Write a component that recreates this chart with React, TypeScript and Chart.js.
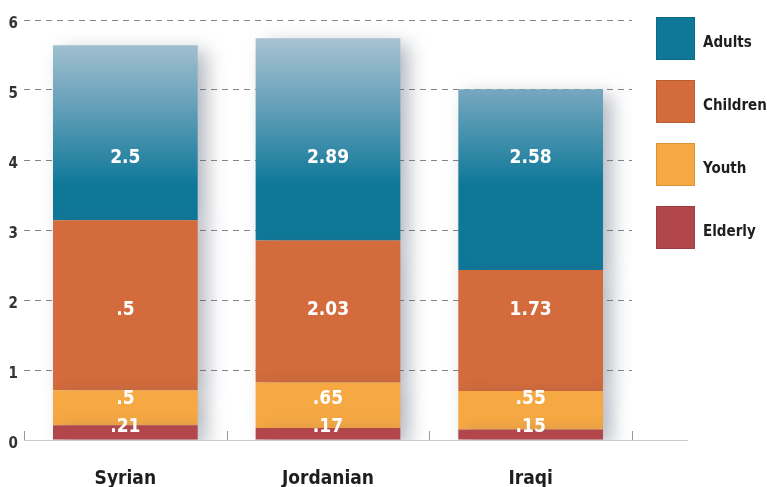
import React, { useEffect, useRef } from 'react';
import { Chart, registerables } from 'chart.js';

Chart.register(...registerables);

const categories = ['Syrian', 'Jordanian', 'Iraqi'];
const seriesNames = ['Adults', 'Children', 'Youth', 'Elderly'];
const adults = [2.5, 2.89, 2.58];
const children = [2.43, 2.03, 1.73];
const youth = [0.5, 0.65, 0.55];
const elderly = [0.21, 0.17, 0.15];
const adultsLabels = ['2.5', '2.89', '2.58'];
const childrenLabels = ['.5', '2.03', '1.73'];
const youthLabels = ['.5', '.65', '.55'];
const elderlyLabels = ['.21', '.17', '.15'];
const yMin = 0;
const yMax = 6;
const yStep = 1;

const FONT = "'Liberation Sans Narrow', 'DejaVu Sans Condensed', 'Roboto', sans-serif";
const COLORS = {
  adults: '#0f7899',
  adultsLight: '#abc5d3',
  children: '#d36b3c',
  youth: '#f6a843',
  elderly: '#b1464b',
};

const legendItems = [
  { name: seriesNames[0], color: COLORS.adults },
  { name: seriesNames[1], color: COLORS.children },
  { name: seriesNames[2], color: COLORS.youth },
  { name: seriesNames[3], color: COLORS.elderly },
];

export default function App() {
  const canvasRef = useRef<HTMLCanvasElement | null>(null);

  useEffect(() => {
    const canvas = canvasRef.current;
    if (!canvas) return;

    const adultsGradient = (ctx: any) => {
      const chart = ctx.chart;
      const area = chart.chartArea;
      const y = chart.scales && chart.scales.y;
      if (!area || !y) return COLORS.adults;
      const top = y.getPixelForValue(5.8);
      const bottom = y.getPixelForValue(3.65);
      const g = chart.ctx.createLinearGradient(0, top, 0, bottom);
      g.addColorStop(0, COLORS.adultsLight);
      g.addColorStop(0.45, '#6aa2bb');
      g.addColorStop(1, COLORS.adults);
      return g;
    };

    const shadowPlugin = {
      id: 'barShadow',
      beforeDatasetsDraw(chart: any) {
        const c = chart.ctx;
        c.save();
        c.shadowColor = 'rgba(70, 80, 100, 0.4)';
        c.shadowBlur = 18;
        c.shadowOffsetX = 9;
        c.shadowOffsetY = 6;
      },
      afterDatasetsDraw(chart: any) {
        chart.ctx.restore();
      },
    };

    const labelSets = [elderlyLabels, youthLabels, childrenLabels, adultsLabels];
    const labelValues = [0.18, 0.58, 1.86, 4.03];

    const decorPlugin = {
      id: 'decor',
      afterDraw(chart: any) {
        const c = chart.ctx;
        const x = chart.scales.x;
        const y = chart.scales.y;
        const area = chart.chartArea;
        const base = y.getPixelForValue(0);
        c.save();
        // baseline
        c.strokeStyle = '#c9c9c9';
        c.lineWidth = 1;
        c.beginPath();
        c.moveTo(area.left, base + 0.5);
        c.lineTo(area.right + 56, base + 0.5);
        c.stroke();
        // boundary tick marks
        const step = x.getPixelForValue(1) - x.getPixelForValue(0);
        c.strokeStyle = '#9a9a9a';
        for (let i = 0; i <= categories.length; i++) {
          const px = Math.round(x.getPixelForValue(i) - step / 2) + 0.5;
          c.beginPath();
          c.moveTo(px, base);
          c.lineTo(px, base - 9);
          c.stroke();
        }
        // value labels
        c.fillStyle = '#ffffff';
        c.font = `bold 19px ${FONT}`;
        c.textAlign = 'center';
        c.textBaseline = 'middle';
        labelSets.forEach((set, di) => {
          const meta = chart.getDatasetMeta(di);
          meta.data.forEach((bar: any, i: number) => {
            c.fillText(set[i], bar.x, y.getPixelForValue(labelValues[di]));
          });
        });
        c.restore();
      },
    };

    const chart = new Chart(canvas, {
      type: 'bar',
      data: {
        labels: categories,
        datasets: [
          { label: seriesNames[3], data: elderly, backgroundColor: COLORS.elderly },
          { label: seriesNames[2], data: youth, backgroundColor: COLORS.youth },
          { label: seriesNames[1], data: children, backgroundColor: COLORS.children },
          { label: seriesNames[0], data: adults, backgroundColor: adultsGradient as any },
        ],
      },
      options: {
        animation: false,
        responsive: true,
        maintainAspectRatio: false,
        layout: { padding: { top: 20, right: 135, left: 0, bottom: 0 } },
        datasets: {
          bar: { categoryPercentage: 1, barPercentage: 0.714, borderWidth: 0 },
        },
        plugins: {
          legend: { display: false },
          tooltip: { enabled: false },
        },
        scales: {
          x: {
            stacked: true,
            offset: true,
            grid: { display: false },
            border: { display: false },
            ticks: {
              color: '#1e1e1e',
              font: { family: FONT, size: 19, weight: 'bold' },
              padding: 20,
            },
            afterFit: (s: any) => {
              s.height = 47;
            },
          },
          y: {
            stacked: true,
            min: yMin,
            max: yMax,
            ticks: {
              stepSize: yStep,
              color: '#333333',
              font: { family: FONT, size: 15, weight: 'bold' },
              padding: 6,
              labelOffset: 4,
            },
            grid: {
              color: (ctx: any) => (ctx.tick && ctx.tick.value === 0 ? 'rgba(0,0,0,0)' : '#858585'),
              lineWidth: 1,
              drawTicks: false,
            },
            border: { display: false, dash: [6, 5] },
            afterFit: (s: any) => {
              s.width = 24;
            },
          },
        },
      },
      plugins: [shadowPlugin, decorPlugin],
    });

    return () => chart.destroy();
  }, []);

  return (
    <div
      style={{
        position: 'fixed',
        left: 0,
        top: 0,
        width: 767,
        height: 487,
        background: '#ffffff',
        overflow: 'hidden',
      }}
    >
      <canvas ref={canvasRef} />
      {legendItems.map((item, i) => (
        <div
          key={item.name}
          style={{
            position: 'absolute',
            left: 656,
            top: 17 + i * 63,
            height: 43,
            display: 'flex',
            alignItems: 'center',
            whiteSpace: 'nowrap',
          }}
        >
          <div
            style={{
              width: 39,
              height: 43,
              background: item.color,
              boxShadow: 'inset 0 0 0 1px rgba(0,0,0,0.12)',
            }}
          />
          <span
            style={{
              marginLeft: 8,
              marginTop: 6,
              fontFamily: FONT,
              fontWeight: 'bold',
              fontSize: 15,
              color: '#1e1e1e',
            }}
          >
            {item.name}
          </span>
        </div>
      ))}
    </div>
  );
}
